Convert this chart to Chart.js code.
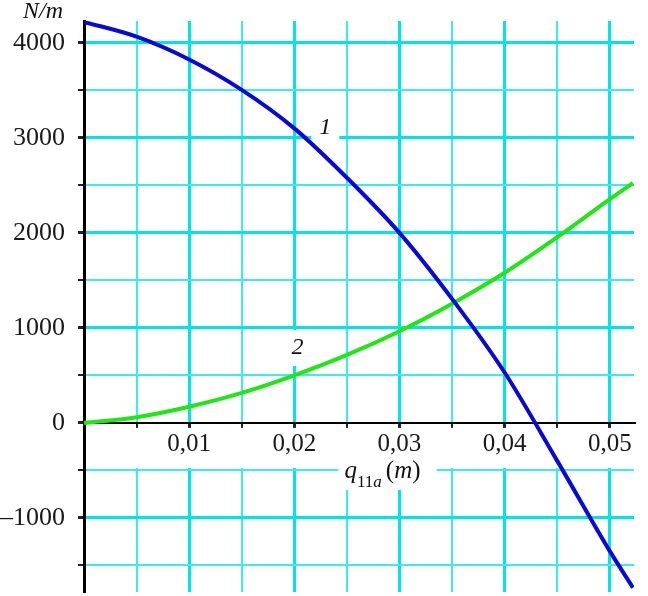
<!DOCTYPE html>
<html>
<head>
<meta charset="utf-8">
<script src="https://cdn.jsdelivr.net/npm/chart.js@4"></script>
<style>
  html, body { margin: 0; padding: 0; background: #fff; }
  #wrap { width: 648px; height: 596px; }
</style>
</head>
<body>
<div id="wrap"><canvas id="forceChart"></canvas></div>
<script>
const qValues = [0, 0.005, 0.01, 0.015, 0.02, 0.025, 0.03, 0.035, 0.04, 0.045, 0.05, 0.0522];
// curve 1 (N/m)
const curve1 = [4220, 4065, 3825, 3505, 3100, 2580, 2000, 1305, 530, -400, -1350, -1735];
// curve 2 (N/m)
const curve2 = [0, 60, 170, 315, 500, 715, 965, 1255, 1580, 1955, 2355, 2525];

// grid / tick positions
const xTicks = [0, 0.005, 0.01, 0.015, 0.02, 0.025, 0.03, 0.035, 0.04, 0.045, 0.05];
const yTicks = [-1500, -1000, -500, 0, 500, 1000, 1500, 2000, 2500, 3000, 3500, 4000];

// curve labels: [text, q, N/m]
const curveLabels = [['1', 0.02295, 3102], ['2', 0.0203, 789]];

const SERIF = "'Liberation Serif', 'Times New Roman', serif";
const GRID_MAJOR = 'rgb(0,230,230)';
const GRID_MINOR = 'rgb(60,236,236)';

function isMultiple(v, step) {
    const r = v / step;
    return Math.abs(r - Math.round(r)) < 1e-6;
}

function toPoints(ys) {
    return qValues.map((q, i) => ({ x: q, y: ys[i] }));
}

// white boxes + texts drawn over the grid but under the curves
const textPlugin = {
    id: 'texts',
    beforeDatasetsDraw(chart) {
        const { ctx, scales: { x, y }, chartArea } = chart;
        ctx.save();

        // curve numbers
        ctx.font = 'italic 24px ' + SERIF;
        ctx.textAlign = 'center';
        ctx.textBaseline = 'middle';
        curveLabels.forEach(([t, q, v]) => {
            const px = x.getPixelForValue(q);
            const py = y.getPixelForValue(v);
            ctx.fillStyle = '#fff';
            ctx.fillRect(px - 14, py - 18, 28, 36);
            ctx.fillStyle = '#111';
            ctx.fillText(t, px, py);
        });

        // x axis title: q_11a (m)
        const cx = x.getPixelForValue(0.02895);
        const base = y.getPixelForValue(-578);
        ctx.fillStyle = '#fff';
        ctx.fillRect(cx - 50, base - 22, 98, 34);
        ctx.fillStyle = '#111';
        ctx.textBaseline = 'alphabetic';
        ctx.textAlign = 'left';
        let left = cx - 44;
        ctx.font = 'italic 25px ' + SERIF;
        ctx.fillText('q', left, base);
        left += ctx.measureText('q').width;
        ctx.font = '17px ' + SERIF;
        ctx.fillText('11', left, base + 9);
        left += ctx.measureText('11').width;
        ctx.font = 'italic 17px ' + SERIF;
        ctx.fillText('a', left, base + 9);
        left += ctx.measureText('a').width + 4;
        ctx.font = '25px ' + SERIF;
        ctx.fillText('(', left, base);
        left += ctx.measureText('(').width;
        ctx.font = 'italic 25px ' + SERIF;
        ctx.fillText('m', left, base);
        left += ctx.measureText('m').width;
        ctx.font = '25px ' + SERIF;
        ctx.fillText(')', left, base);

        // y axis unit
        ctx.font = 'italic 24px ' + SERIF;
        ctx.textAlign = 'right';
        ctx.fillText('N/m', chartArea.left - 21, 18);
        ctx.restore();
    }
};

new Chart(document.getElementById('forceChart'), {
    type: 'line',
    data: {
        datasets: [
            {
                label: '1',
                data: toPoints(curve1),
                borderColor: 'rgb(8,8,215)',
                borderWidth: 4,
                pointRadius: 0,
                cubicInterpolationMode: 'monotone',
                fill: false
            },
            {
                label: '2',
                data: toPoints(curve2),
                borderColor: 'rgb(30,232,20)',
                borderWidth: 4,
                pointRadius: 0,
                cubicInterpolationMode: 'monotone',
                fill: false
            }
        ]
    },
    options: {
        responsive: true,
        maintainAspectRatio: false,
        animation: false,
        layout: { padding: { top: 21, right: 14, bottom: 4, left: 0 } },
        plugins: {
            legend: { display: false },
            tooltip: { enabled: false }
        },
        scales: {
            x: {
                type: 'linear',
                position: { y: 0 },
                min: 0,
                max: 0.0523,
                afterBuildTicks(scale) {
                    scale.ticks = xTicks.map(v => ({ value: v }));
                },
                afterFit(scale) {
                    scale.height = 0;
                    scale.paddingLeft = 0;
                    scale.paddingRight = 0;
                },
                ticks: {
                    autoSkip: false,
                    maxRotation: 0,
                    padding: 2,
                    color: '#1a1a1a',
                    font: { family: SERIF, size: 25 },
                    showLabelBackdrop: true,
                    backdropColor: '#fff',
                    backdropPadding: { top: 2, bottom: 8, left: 2, right: 2 },
                    callback(v) {
                        if (v <= 0 || !isMultiple(v, 0.01)) return '';
                        return v.toFixed(2).replace('.', ',');
                    }
                },
                grid: {
                    color(c) {
                        if (!c.tick || c.tick.value === 0) return 'rgba(0,0,0,0)';
                        return isMultiple(c.tick.value, 0.01) ? GRID_MAJOR : GRID_MINOR;
                    },
                    lineWidth(c) {
                        return c.tick && isMultiple(c.tick.value, 0.01) ? 3 : 2;
                    },
                    tickColor: '#222',
                    tickLength: 5
                },
                border: { color: '#000', width: 2 }
            },
            y: {
                type: 'linear',
                position: 'left',
                min: -1780,
                max: 4230,
                afterBuildTicks(scale) {
                    scale.ticks = yTicks.map(v => ({ value: v }));
                },
                afterFit(scale) {
                    scale.width = 84;
                    scale.paddingTop = 0;
                    scale.paddingBottom = 0;
                },
                ticks: {
                    autoSkip: false,
                    padding: 13,
                    color: '#1a1a1a',
                    font: { family: SERIF, size: 26 },
                    callback(v) {
                        if (!isMultiple(v, 1000)) return '';
                        return v < 0 ? '\u2013' + Math.abs(v) : String(v);
                    }
                },
                grid: {
                    color(c) {
                        if (!c.tick || c.tick.value === 0) return 'rgba(0,0,0,0)';
                        return isMultiple(c.tick.value, 1000) ? GRID_MAJOR : GRID_MINOR;
                    },
                    lineWidth(c) {
                        return c.tick && isMultiple(c.tick.value, 1000) ? 3 : 2;
                    },
                    tickColor: '#222',
                    tickLength: 6
                },
                border: { color: '#000', width: 3 }
            }
        }
    },
    plugins: [textPlugin]
});
</script>
</body>
</html>
